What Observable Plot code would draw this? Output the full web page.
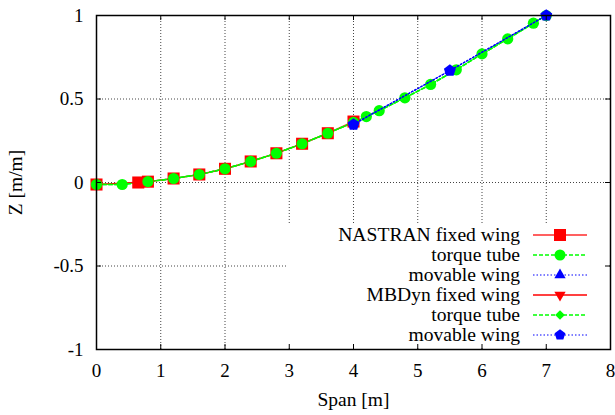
<!DOCTYPE html>
<html><head><meta charset="utf-8">
<script src="https://cdn.jsdelivr.net/npm/d3@7"></script>
<script src="https://cdn.jsdelivr.net/npm/@observablehq/plot@0.6"></script>
<style>
html,body{margin:0;padding:0;background:#fff;}
#wrap{position:relative;width:615px;height:415px;}
#wrap > *{position:absolute;left:0;top:0;}
#wrap svg, #wrap svg text{font-family:'Liberation Serif','DejaVu Serif','Times New Roman',Times,serif !important;}
</style></head><body><div id="wrap"></div>
<script>
// ---- data ----
const xTicks = [0, 1, 2, 3, 4, 5, 6, 7, 8];
const yTicks = [-1, -0.5, 0, 0.5, 1];
const xGrid = [1, 2, 3, 4, 5, 6, 7];
const yGrid = [-0.5, 0, 0.5];
const xLabel = "Span [m]";
const yLabel = "Z [m/m]";
const legendLabels = ["NASTRAN fixed wing", "torque tube", "movable wing", "MBDyn fixed wing", "torque tube", "movable wing"];

const nastranFixedX = [0, 0.65, 0.8, 1.2, 1.6, 2.0, 2.4, 2.8, 3.2, 3.6, 4.0];
const nastranFixedZ = [-0.012, 0.0, 0.005, 0.024, 0.048, 0.082, 0.126, 0.175, 0.232, 0.295, 0.365];
const nastranTubeX = [0, 0.4, 0.8, 1.2, 1.6, 2.0, 2.4, 2.8, 3.2, 3.6, 4.0, 4.2, 4.4, 4.8, 5.2, 5.6, 6.0, 6.4, 6.8, 7.0];
const nastranTubeZ = [-0.012, -0.012, 0.005, 0.024, 0.048, 0.082, 0.126, 0.175, 0.232, 0.295, 0.36, 0.395, 0.43, 0.507, 0.587, 0.675, 0.77, 0.86, 0.954, 1.0];
const nastranMovX = [4.0, 5.5, 7.0];
const nastranMovZ = [0.35, 0.67, 1.0];
const mbdynFixedX = [0, 0.8, 1.2, 1.6, 2.0, 2.4, 2.8, 3.2, 3.6, 4.0];
const mbdynFixedZ = [-0.012, 0.005, 0.024, 0.048, 0.082, 0.126, 0.175, 0.232, 0.295, 0.36];
const mbdynTubeX = [0, 0.4, 0.8, 1.2, 1.6, 2.0, 2.4, 2.8, 3.2, 3.6, 4.0, 4.2, 4.4, 4.8, 5.2, 5.6, 6.0, 6.4, 6.8, 7.0];
const mbdynTubeZ = [-0.012, -0.012, 0.005, 0.024, 0.048, 0.082, 0.126, 0.175, 0.232, 0.295, 0.36, 0.395, 0.43, 0.507, 0.587, 0.675, 0.77, 0.86, 0.954, 1.0];
const mbdynMovX = [4.0, 5.5, 7.0];
const mbdynMovZ = [0.347, 0.67, 1.0];

const toRows = (xs, zs) => xs.map((x, i) => ({x, z: zs[i]}));
const nFix = toRows(nastranFixedX, nastranFixedZ);
const nTube = toRows(nastranTubeX, nastranTubeZ);
const nMov = toRows(nastranMovX, nastranMovZ);
const mFix = toRows(mbdynFixedX, mbdynFixedZ);
const mTube = toRows(mbdynTubeX, mbdynTubeZ);
const mMov = toRows(mbdynMovX, mbdynMovZ);

// ---- symbols ----
const pentagon = {draw(ctx, size) {
  const R = Math.sqrt(size / Math.PI) * 1.12;
  for (let i = 0; i < 5; i++) {
    const a = -Math.PI / 2 + i * 2 * Math.PI / 5;
    const px = R * Math.cos(a), py = R * Math.sin(a);
    if (i) ctx.lineTo(px, py); else ctx.moveTo(px, py);
  }
  ctx.closePath();
}};
const triDown = {draw(ctx, size) {
  const y = -Math.sqrt(size / (Math.sqrt(3) * 3));
  ctx.moveTo(0, -2 * y);
  ctx.lineTo(-Math.sqrt(3) * y, y);
  ctx.lineTo(Math.sqrt(3) * y, y);
  ctx.closePath();
}};

const RED = "#ff0000", GREEN = "#00ff00", BLUE = "#0000ff";
const FONT = "'Liberation Serif','DejaVu Serif','Times New Roman',Times,serif";
const W = 615, H = 415, ML = 96, MR = 5, MT = 15, MB = 66;
const common = {width: W, height: H, marginLeft: ML, marginRight: MR, marginTop: MT, marginBottom: MB};

const base = Plot.plot({
  ...common,
  style: {fontFamily: FONT, fontSize: "19px", background: "white", color: "black"},
  x: {domain: [0, 8]},
  y: {domain: [-1, 1]},
  marks: [
    Plot.ruleX(xGrid, {stroke: "#444", strokeDasharray: "1,2", strokeWidth: 1}),
    Plot.ruleY(yGrid, {stroke: "#444", strokeDasharray: "1,2", strokeWidth: 1}),
    Plot.axisX({ticks: xTicks, tickSize: 0, tickPadding: 14, tickFormat: d => String(d), fontSize: 19, label: null}),
    Plot.axisX({ticks: [], label: xLabel, labelAnchor: "center", labelOffset: 56, labelArrow: "none", fontSize: 19.5}),
    Plot.axisY({ticks: yTicks, tickSize: 0, tickPadding: 13, tickFormat: d => String(d), fontSize: 19, label: null}),
    Plot.axisY({ticks: [], label: yLabel, labelAnchor: "center", labelOffset: 88, labelArrow: "none", fontSize: 19.5}),
    Plot.line(nFix, {x: "x", y: "z", stroke: "#ff6060", strokeWidth: 1.5}),
    Plot.line(mFix, {x: "x", y: "z", stroke: RED, strokeWidth: 1.2}),
    Plot.line(nTube, {x: "x", y: "z", stroke: GREEN, strokeWidth: 1.5, strokeDasharray: "4,2"}),
    Plot.line(mTube, {x: "x", y: "z", stroke: GREEN, strokeWidth: 1.5, strokeDasharray: "4,2"}),
    Plot.dot(mFix, {x: "x", y: "z", symbol: triDown, r: 3, fill: RED, stroke: "none"}),
    Plot.dot(nFix, {x: "x", y: "z", symbol: "square", r: 6.8, fill: RED, stroke: "none"}),
    Plot.dot(nMov, {x: "x", y: "z", symbol: "triangle", r: 3, fill: BLUE, stroke: "none"}),
    Plot.dot(mTube, {x: "x", y: "z", symbol: "diamond2", r: 4, fill: GREEN, stroke: "none"}),
    Plot.dot(nTube, {x: "x", y: "z", symbol: "circle", r: 5.6, fill: GREEN, stroke: "none"}),
    Plot.line(nMov, {x: "x", y: "z", stroke: BLUE, strokeWidth: 1.2, strokeDasharray: "1.5,2"}),
    Plot.line(mMov, {x: "x", y: "z", stroke: BLUE, strokeWidth: 1.2, strokeDasharray: "1.5,2"}),
    Plot.dot(mMov, {x: "x", y: "z", symbol: pentagon, r: 5.6, fill: BLUE, stroke: "none"})
  ]
});

// ---- legend (key box, opaque, like gnuplot) ----
const legendStyles = [
  {stroke: "#ff6060", dash: null, sw: 2, fill: RED, sym: d3.symbolSquare, size: 144},
  {stroke: GREEN, dash: "4,2", sw: 1.5, fill: GREEN, sym: d3.symbolCircle, size: 95},
  {stroke: BLUE, dash: "1.5,2", sw: 1.2, fill: BLUE, sym: d3.symbolTriangle, size: 55},
  {stroke: RED, dash: null, sw: 1.5, fill: RED, sym: triDown, size: 55},
  {stroke: GREEN, dash: "4,2", sw: 1.5, fill: GREEN, sym: d3.symbolDiamond2, size: 60},
  {stroke: BLUE, dash: "1.5,2", sw: 1.2, fill: BLUE, sym: pentagon, size: 80}
];
const leg = d3.create("svg").attr("width", W).attr("height", H)
  .attr("font-family", FONT).attr("font-size", 19.6);
leg.append("rect").attr("x", 287).attr("y", 224).attr("width", 322).attr("height", 124).attr("fill", "white");
legendLabels.forEach((lab, i) => {
  const cy = 235 + 20 * i;
  const s = legendStyles[i];
  leg.append("text").attr("x", 520).attr("y", cy).attr("dy", "0.32em").attr("text-anchor", "end").attr("fill", "black").text(lab);
  leg.append("line").attr("x1", 533).attr("x2", 587).attr("y1", cy).attr("y2", cy)
    .attr("stroke", s.stroke).attr("stroke-width", s.sw).attr("stroke-dasharray", s.dash);
  leg.append("path").attr("transform", `translate(560,${cy})`).attr("d", d3.symbol(s.sym, s.size)()).attr("fill", s.fill);
});

// ---- border + ticks on top ----
const topLayer = Plot.plot({
  ...common,
  style: {background: "transparent"},
  x: {domain: [0, 8], axis: null},
  y: {domain: [-1, 1], axis: null},
  marks: [
    Plot.tickX(xTicks, {x: d => d, insetTop: H - MT - MB - 5, stroke: "black"}),
    Plot.tickX(xTicks, {x: d => d, insetBottom: H - MT - MB - 5, stroke: "black"}),
    Plot.tickY(yTicks, {y: d => d, insetRight: W - ML - MR - 5, stroke: "black"}),
    Plot.tickY(yTicks, {y: d => d, insetLeft: W - ML - MR - 5, stroke: "black"}),
    Plot.frame({stroke: "black", strokeWidth: 1.5})
  ]
});

const wrap = document.getElementById("wrap");
wrap.append(base, leg.node(), topLayer);
</script>
</body></html>
